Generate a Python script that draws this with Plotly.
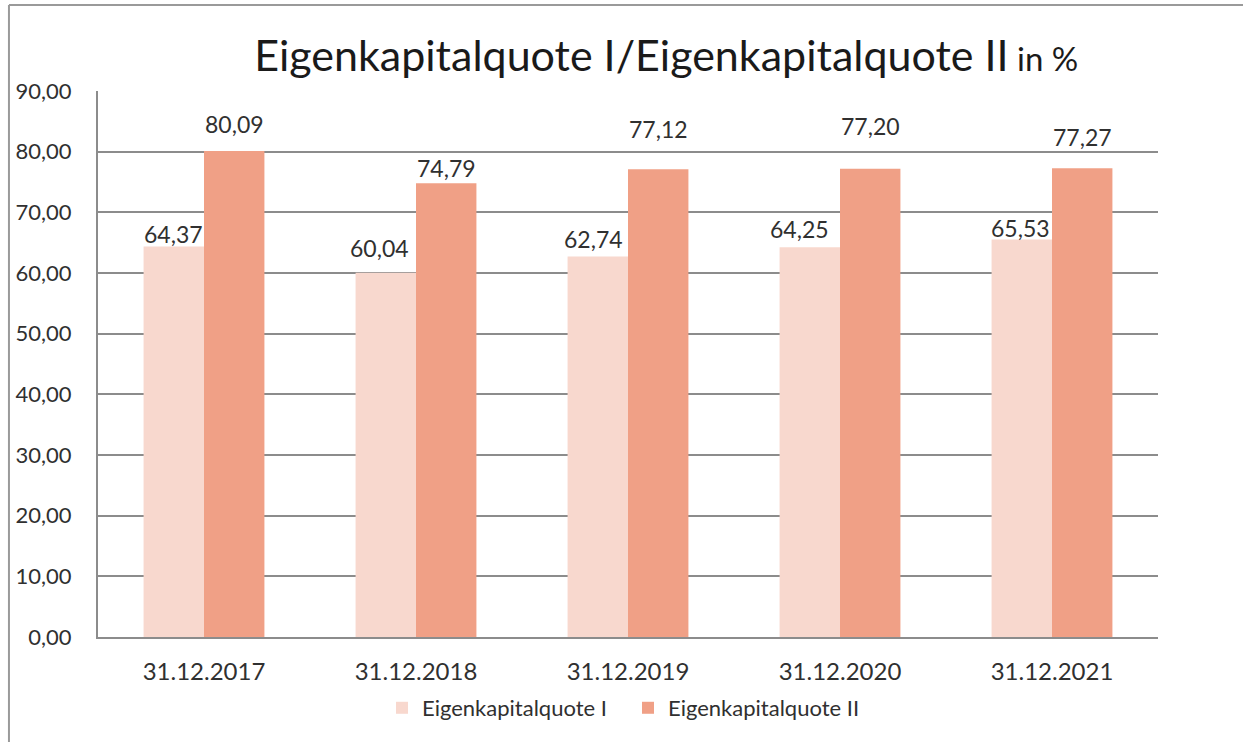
import plotly.graph_objects as go

categories = ["31.12.2017", "31.12.2018", "31.12.2019", "31.12.2020", "31.12.2021"]
quote_I = [64.37, 60.04, 62.74, 64.25, 65.53]
quote_II = [80.09, 74.79, 77.12, 77.20, 77.27]
series_names = ["Eigenkapitalquote I", "Eigenkapitalquote II"]
y_ticks = [0, 10, 20, 30, 40, 50, 60, 70, 80, 90]

# label placement (pixel shifts as in the reference, manually placed labels)
shift_y_I = [12, 25, 17, 18, 11]
shift_y_II = [27, 15, 40, 43, 31]
shift_x_I = [0, -6, -4, -10, -1]

col_I = "#F8D8CE"
col_II = "#F0A086"
font = "Lato"
txt = "#303030"

fig = go.Figure()
fig.add_trace(go.Bar(x=categories, y=quote_I, name=series_names[0],
                     marker=dict(color=col_I, line=dict(width=0))))
fig.add_trace(go.Bar(x=categories, y=quote_II, name=series_names[1],
                     marker=dict(color=col_II, line=dict(width=0))))

annotations = []
for i, c in enumerate(categories):
    annotations.append(dict(x=c, y=quote_I[i], xref="x", yref="y",
                            text=f"{quote_I[i]:.2f}".replace(".", ","),
                            showarrow=False, xshift=-30.5 + shift_x_I[i], yshift=shift_y_I[i],
                            yanchor="middle", font=dict(family=font, size=23, color=txt)))
    annotations.append(dict(x=c, y=quote_II[i], xref="x", yref="y",
                            text=f"{quote_II[i]:.2f}".replace(".", ","),
                            showarrow=False, xshift=30.5, yshift=shift_y_II[i],
                            yanchor="middle", font=dict(family=font, size=23, color=txt)))

fig.update_layout(
    width=1243, height=742,
    margin=dict(l=98, r=85, t=91, b=105),
    paper_bgcolor="white", plot_bgcolor="white",
    separators=",.",
    bargap=0.43, bargroupgap=0,
    font=dict(family=font, size=22, color=txt),
    title=dict(text="Eigenkapitalquote I/Eigenkapitalquote II<span style='font-size:33px'> in %</span>",
               font=dict(family=font, size=43, color="#1a1a1a"),
               x=0.536, xref="container", xanchor="center",
               y=1 - 56 / 742, yref="container", yanchor="middle"),
    legend=dict(orientation="h", x=0.500, xanchor="center", y=-0.13, yanchor="middle",
                font=dict(family=font, size=22, color=txt), traceorder="normal",
                itemwidth=30, entrywidth=201, entrywidthmode="pixels"),
    annotations=annotations,
    shapes=[
        dict(type="line", xref="paper", yref="paper", x0=-0.084, x1=1.2, y0=1.1575, y1=1.1575,
             line=dict(color="#9a9a9a", width=2)),
        dict(type="line", xref="paper", yref="paper", x0=-0.084, x1=-0.084, y0=1.1575, y1=-0.25,
             line=dict(color="#9a9a9a", width=2)),
    ],
)
fig.update_yaxes(range=[0, 90], tickvals=y_ticks, tickformat=".2f",
                 showgrid=True, gridcolor="#8c8c8c", gridwidth=2,
                 showline=True, linecolor="#8c8c8c", linewidth=2,
                 ticks="", ticklabelstandoff=20, zeroline=False,
                 tickfont=dict(family=font, size=22, color=txt))
fig.update_xaxes(showline=True, linecolor="#8c8c8c", linewidth=2, ticks="",
                 ticklabelstandoff=12,
                 tickfont=dict(family=font, size=24, color=txt))

fig.write_html("out.html", config={"displayModeBar": False},
               post_script="document.body.style.margin='0px';")
